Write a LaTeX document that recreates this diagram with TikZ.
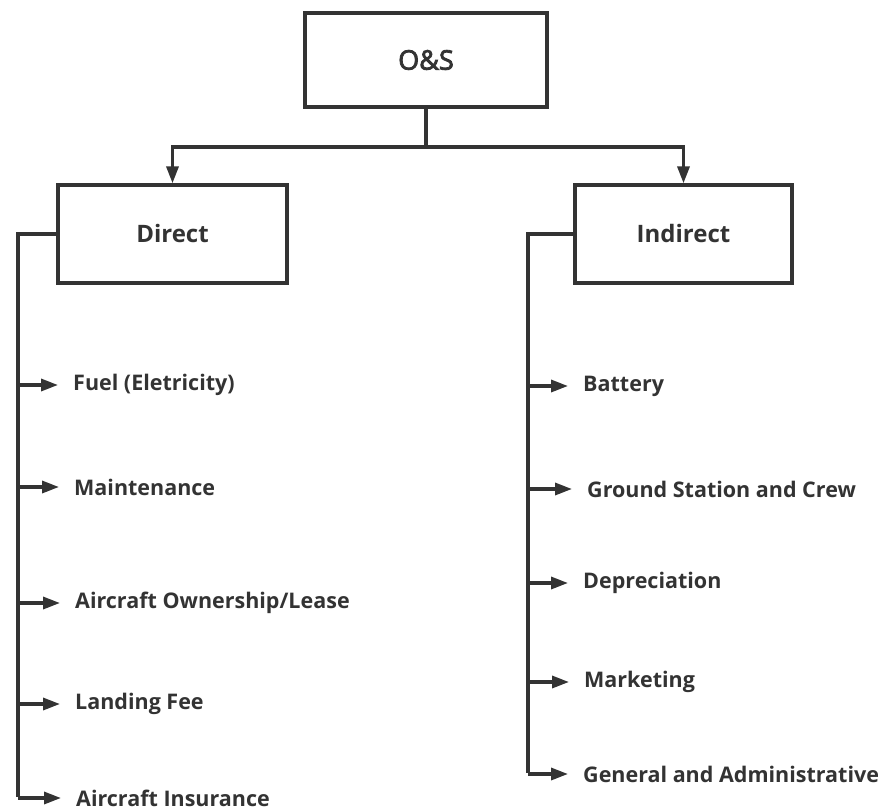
\documentclass[tikz,border=0pt]{standalone}
\usepackage{fontspec}
\setmainfont{Open Sans}
\newfontfamily\midweight[FakeBold=3]{Open Sans}
\usetikzlibrary{arrows.meta}
\definecolor{ink}{HTML}{333333}
\begin{document}
\begin{tikzpicture}[x=1pt,y=-1pt,
  line/.style={draw=ink,line width=3.3pt,line join=miter},
  arr/.style={line,-{Triangle[length=17pt,width=12pt]}},
  topbox/.style={draw=ink,line width=3.3pt,minimum width=242pt,minimum height=94pt,
    text=ink,font=\midweight\fontsize{27}{32}\selectfont},
  catbox/.style={draw=ink,line width=3.3pt,minimum height=98pt,
    text=ink,font=\bfseries\fontsize{24}{30}\selectfont},
  item/.style={anchor=west,inner xsep=15pt,inner ysep=0pt,text=ink,
    font=\bfseries\fontsize{21.5}{24}\selectfont}]
  \useasboundingbox (0,0) rectangle (880,810);

  % root and the two categories
  \node[topbox] (os) at (426,60) {O\&S};
  \node[catbox,minimum width=229pt] (direct) at (172.5,234) {Direct};
  \node[catbox,minimum width=217pt] (indirect) at (683.5,234) {Indirect};

  \coordinate (join) at (426,147);
  \draw[line] (os.south) -- (join);
  \draw[arr] (join) -| (direct.north);
  \draw[arr] (join) -| (indirect.north);

  % direct cost items
  \node[item] (fuel)  at (58,385) {Fuel (Eletricity)};
  \node[item] (maint) at (59,487) {Maintenance};
  \node[item] (own)   at (60,603) {Aircraft Ownership/Lease};
  \node[item] (land)  at (60,704) {Landing Fee};
  \node[item] (ins)   at (61,798) {Aircraft Insurance};

  \coordinate (lbus) at (18,797);
  \draw[line] (direct.west) -| (lbus);
  \foreach \n in {fuel,maint,own,land,ins}
    \draw[arr] (lbus |- \n.west) -- (\n.west);

  % indirect cost items
  \node[item] (bat)  at (568,386) {Battery};
  \node[item] (gsc)  at (572,489) {Ground Station and Crew};
  \node[item] (dep)  at (568,583) {Depreciation};
  \node[item] (mkt)  at (569,682) {Marketing};
  \node[item] (gad)  at (568,774) {General and Administrative};

  \coordinate (rbus) at (528,773);
  \draw[line] (indirect.west) -| (rbus);
  \foreach \n in {bat,gsc,dep,mkt,gad}
    \draw[arr] (rbus |- \n.west) -- (\n.west);
\end{tikzpicture}
\end{document}
